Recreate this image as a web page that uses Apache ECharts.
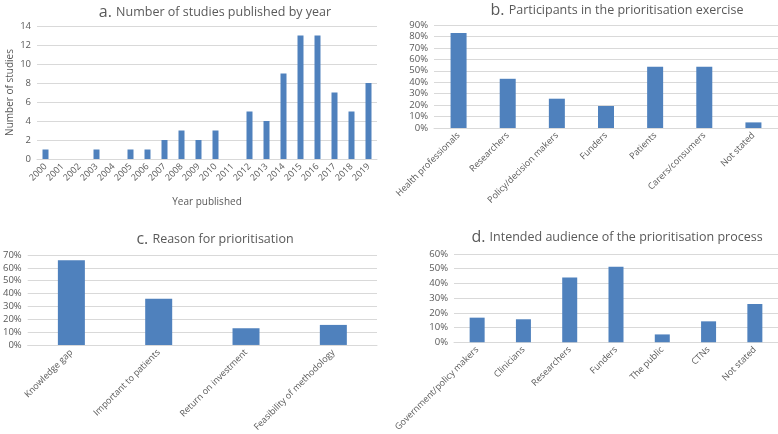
<!DOCTYPE html>
<html><head><meta charset="utf-8">
<script src="https://cdn.jsdelivr.net/npm/echarts@6/dist/echarts.min.js"></script>
<style>html,body{margin:0;padding:0;background:#fff}#c{width:778px;height:434px}</style>
</head><body><div id="c"></div>
<script>
const yearsA = ['2000','2001','2002','2003','2004','2005','2006','2007','2008','2009','2010','2011','2012','2013','2014','2015','2016','2017','2018','2019'];
const studiesA = [1,0,0,1,0,1,1,2,3,2,3,0,5,4,9,13,13,7,5,8];
const catsB = ['Health professionals','Researchers','Policy/decision makers','Funders','Patients','Carers/consumers','Not stated'];
const valsB = [83,43,25.6,19.2,53.5,53.5,4.9];
const catsC = ['Knowledge gap','Important to patients','Return on investment','Feasibility of methodology'];
const valsC = [66,36,13,15.6];
const catsD = ['Government/policy makers','Clinicians','Researchers','Funders','The public','CTNs','Not stated'];
const valsD = [16.7,15.6,44,51.3,5.3,14.2,26];

const FONT = 'Open Sans';
const TXT = '#595959';
const BLUE = '#4f81bd';
const grids = [
  {left:37, width:340, top:26, height:133},
  {left:434, width:344, top:25, height:103},
  {left:25, width:352, top:255, height:93},
  {left:454, width:324, top:254, height:90}
];
function xAx(i, data, extra){
  return Object.assign({type:'category', gridIndex:i, data:data,
    axisLine:{lineStyle:{color:'#d9d9d9'}}, axisTick:{show:false},
    axisLabel:{rotate:45, interval:0, fontFamily:FONT, fontSize:9, color:TXT, margin:6}}, extra||{});
}
function yAx(i, max, interval, pct, extra){
  return Object.assign({type:'value', gridIndex:i, min:0, max:max, interval:interval,
    axisLine:{show:false}, axisTick:{show:false},
    splitLine:{lineStyle:{color:'#d9d9d9'}},
    axisLabel:{fontFamily:FONT, fontSize:9.5, color:TXT, margin:6, formatter: pct ? '{value}%' : '{value}'}}, extra||{});
}
function ttl(letter, text, x, y){
  return {text:'{p|'+letter+'}{t|'+text+'}', left:x, top:y, textAlign:'center',
    textStyle:{fontWeight:'normal', rich:{p:{fontFamily:FONT, fontSize:16, fontWeight:'normal', color:TXT}, t:{fontFamily:FONT, fontSize:12.5, fontWeight:'normal', color:TXT}}}};
}
function bar(i, data, w){
  return {type:'bar', xAxisIndex:i, yAxisIndex:i, data:data, barWidth:w,
    itemStyle:{color:BLUE}};
}
const option = {
  animation:false,
  title:[ttl('a. ','Number of studies published by year',210,-1),
         ttl('b. ','Participants in the prioritisation exercise',612,-3),
         ttl('c. ','Reason for prioritisation',210,226),
         ttl('d. ','Intended audience of the prioritisation process',612,224)],
  grid:grids,
  xAxis:[xAx(0, yearsA, {name:'Year published', nameLocation:'middle', nameGap:38, nameTextStyle:{fontFamily:FONT, fontSize:10, color:TXT}}),
         xAx(1, catsB), xAx(2, catsC), xAx(3, catsD)],
  yAxis:[yAx(0,14,2,false,{name:'Number of studies', nameLocation:'middle', nameGap:22, nameTextStyle:{fontFamily:FONT, fontSize:10, color:TXT}}),
         yAx(1,90,10,true), yAx(2,70,10,true), yAx(3,60,10,true)],
  series:[bar(0, studiesA, 6), bar(1, valsB, 16), bar(2, valsC, 27), bar(3, valsD, 15)]
};
echarts.init(document.getElementById('c')).setOption(option);
</script></body></html>
